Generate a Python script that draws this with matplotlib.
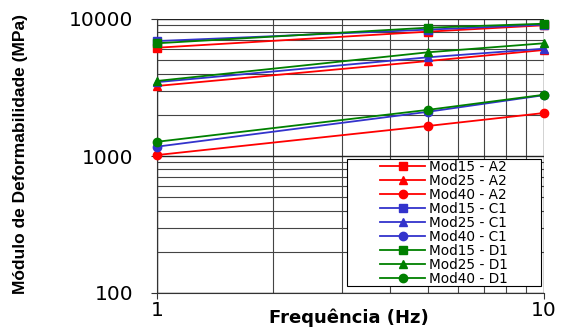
import matplotlib
matplotlib.use("Agg")
import matplotlib.pyplot as plt
from matplotlib import font_manager
from matplotlib.patches import Rectangle

freq = [1, 5, 10]
mod15_a2 = [6170, 8080, 9000]
mod25_a2 = [3245, 4930, 5940]
mod40_a2 = [1016, 1655, 2060]
mod15_c1 = [6900, 8360, 9100]
mod25_c1 = [3460, 5250, 6070]
mod40_c1 = [1170, 2100, 2780]
mod15_d1 = [6650, 8640, 9240]
mod25_d1 = [3530, 5710, 6650]
mod40_d1 = [1270, 2170, 2800]

series = [
    ("Mod15 - A2", mod15_a2, "#FF0000", "s"),
    ("Mod25 - A2", mod25_a2, "#FF0000", "^"),
    ("Mod40 - A2", mod40_a2, "#FF0000", "o"),
    ("Mod15 - C1", mod15_c1, "#3333CC", "s"),
    ("Mod25 - C1", mod25_c1, "#3333CC", "^"),
    ("Mod40 - C1", mod40_c1, "#3333CC", "o"),
    ("Mod15 - D1", mod15_d1, "#008000", "s"),
    ("Mod25 - D1", mod25_d1, "#008000", "^"),
    ("Mod40 - D1", mod40_d1, "#008000", "o"),
]

plt.rcParams['font.family'] = ['DejaVu Sans']

names = {f.name for f in font_manager.fontManager.ttflist}
if 'Liberation Sans Narrow' in names:
    ylab_family, ylab_size = 'Liberation Sans Narrow', 13.5
else:
    ylab_family, ylab_size = 'Liberation Sans', 12.5

fig = plt.figure(figsize=(5.64, 3.29), dpi=100)
ax = fig.add_axes([157/564, 1-293/329, (544-157)/564, (293-19)/329])

for label, vals, col, mk in series:
    ax.plot(freq, vals, color=col, marker=mk, markersize=6, linewidth=1.3,
            label=label, clip_on=False, zorder=3)

ax.set_xscale('log')
ax.set_yscale('log')
ax.set_xlim(1, 10)
ax.set_ylim(100, 10000)
ax.grid(True, which='major', color='#222222', linewidth=1.0)
ax.grid(True, which='minor', color='#444444', linewidth=0.8)
ax.set_xticks([1, 10])
ax.set_xticklabels(['1', '10'])
ax.set_yticks([100, 1000, 10000])
ax.set_yticklabels(['100', '1000', '10000'])
ax.tick_params(axis='both', which='major', labelsize=14.5, length=4, color='#333333')
ax.tick_params(axis='y', which='major', pad=13)
ax.tick_params(axis='x', which='major', pad=2)
ax.tick_params(axis='both', which='minor', length=0)
ax.tick_params(axis='y', which='minor', labelleft=False)
ax.tick_params(axis='x', which='minor', labelbottom=False)
for s in ['top', 'right']:
    ax.spines[s].set_visible(False)
ax.spines['left'].set_color('#333333')
ax.spines['bottom'].set_color('#333333')

ax.set_xlabel('Frequência (Hz)', fontsize=13, fontweight='bold')
ax.xaxis.set_label_coords(0.495, -0.09)
ax.xaxis.label.set_verticalalignment('center')
ax.set_ylabel('Módulo de Deformabilidade (MPa)', fontsize=ylab_size,
              fontweight='bold', family=ylab_family)
ax.yaxis.set_label_coords(-0.354, 0.509)
ax.yaxis.label.set_verticalalignment('center')

ax.add_patch(Rectangle((0.491, 0.0255), 0.992 - 0.491, 0.489 - 0.0255,
                       transform=ax.transAxes, facecolor='white',
                       edgecolor='black', linewidth=0.8, zorder=4, clip_on=False))
leg = ax.legend(loc='center', bbox_to_anchor=(0.742, 0.257), fontsize=9.8,
                handlelength=3.3, labelspacing=0.0, borderpad=0.0, handletextpad=0.3,
                frameon=False, borderaxespad=0)
leg.set_zorder(5)
for h in leg.legend_handles:
    h.set_markersize(6)

fig.savefig('out.png', dpi=100)
